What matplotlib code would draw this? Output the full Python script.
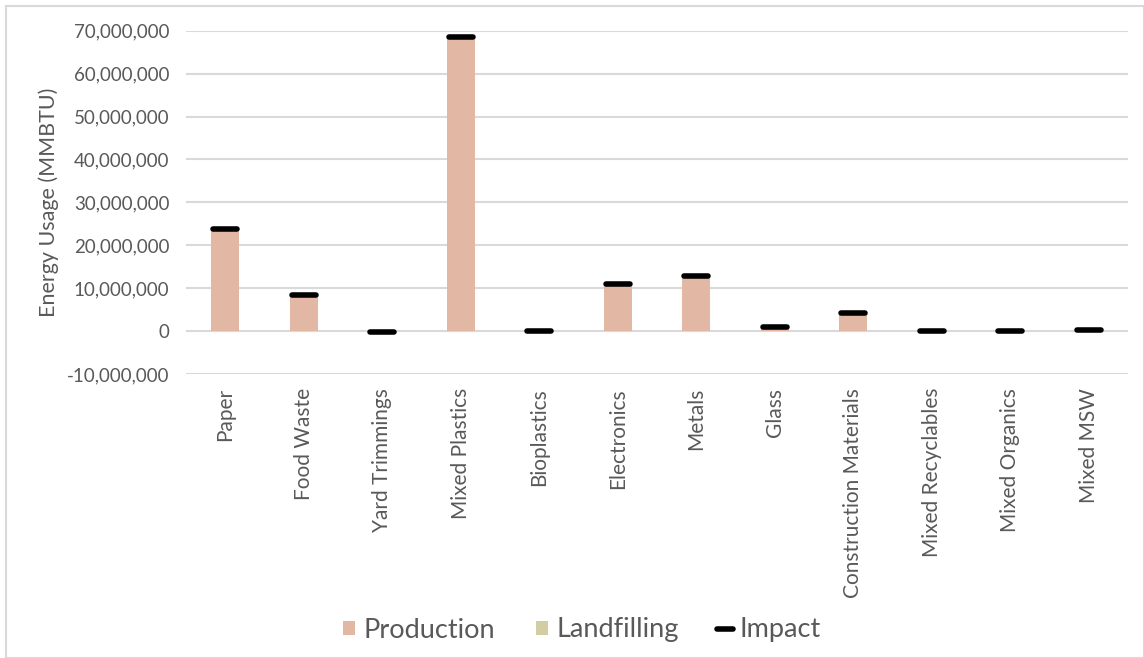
import matplotlib.pyplot as plt
from matplotlib.markers import MarkerStyle
from matplotlib.patches import Rectangle
from matplotlib.ticker import FuncFormatter
import numpy as np

plt.rcParams['font.family'] = ['Lato', 'DejaVu Sans']

materials = ['Paper', 'Food Waste', 'Yard Trimmings', 'Mixed Plastics', 'Bioplastics',
             'Electronics', 'Metals', 'Glass', 'Construction Materials',
             'Mixed Recyclables', 'Mixed Organics', 'Mixed MSW']

# MMBTU
production = [23.6e6, 8.0e6, 0.0, 68.4e6, 0.05e6, 10.7e6, 12.7e6, 0.6e6, 4.1e6, 0.0, 0.0, 0.1e6]
landfilling = [0.3e6, 0.5e6, -0.3e6, 0.2e6, -0.05e6, 0.3e6, 0.2e6, 0.3e6, 0.2e6, -0.05e6, -0.05e6, 0.1e6]
impact = [23.9e6, 8.5e6, -0.3e6, 68.6e6, 0.0, 11.0e6, 12.9e6, 0.9e6, 4.3e6, -0.05e6, -0.05e6, 0.2e6]

yticks = np.arange(-10e6, 70e6 + 1, 10e6)

text_col = '#595959'
grid_col = '#D9D9D9'
prod_col = '#E2B8A4'
land_col = '#D2CDA3'

fig = plt.figure(figsize=(11.44, 6.58), dpi=100)
ax = fig.add_axes([0.1626, 0.4316, 0.8234, 0.5217])

# outer chart frame
fig.patches.append(Rectangle((6 / 1144, 0), 1 - 6 / 1144, 1 - 6 / 658, transform=fig.transFigure,
                             fill=False, edgecolor=grid_col, linewidth=1.5))

x = np.arange(len(materials))
prod = np.array(production)
land = np.array(landfilling)
land_base = np.where(land >= 0, np.maximum(prod, 0), 0)

b1 = ax.bar(x, prod, width=0.36, color=prod_col, label='Production', zorder=2)
b2 = ax.bar(x, land, width=0.36, bottom=land_base, color=land_col, label='Landfilling', zorder=2)
ln, = ax.plot(x, impact, linestyle='none', marker=MarkerStyle('_', capstyle='round'),
              markersize=17, markeredgewidth=4, color='black', label='Impact', zorder=3)

ax.set_xlim(-0.5, len(materials) - 0.5)
ax.set_ylim(-10e6, 70e6)
ax.set_yticks(yticks)
ax.yaxis.set_major_formatter(FuncFormatter(lambda v, p: f'{v:,.0f}'))
ax.grid(axis='y', color=grid_col, linewidth=1.5, zorder=0)
ax.set_axisbelow(True)

ax.set_xticks(x)
ax.set_xticklabels(materials, rotation=90)
ax.tick_params(axis='x', length=0, labelsize=15, labelcolor=text_col, pad=10)
ax.tick_params(axis='y', length=0, labelsize=13.5, labelcolor=text_col, pad=12)
for s in ax.spines.values():
    s.set_visible(False)

ax.set_ylabel('Energy Usage (MMBTU)', fontsize=15.5, color=text_col, labelpad=6)

leg = fig.legend([b1, b2, ln], ['Production', 'Landfilling', 'Impact'], loc='center',
                 bbox_to_anchor=(582 / 1144, 1 - 630 / 658), ncol=3, frameon=False,
                 fontsize=19.5, handlelength=0.45, handleheight=0.45,
                 handletextpad=0.3, columnspacing=1.5)
for t in leg.get_texts():
    t.set_color(text_col)
leg.legend_handles[2].set_markersize(12)

fig.savefig('out.png', dpi=100, facecolor='white')
